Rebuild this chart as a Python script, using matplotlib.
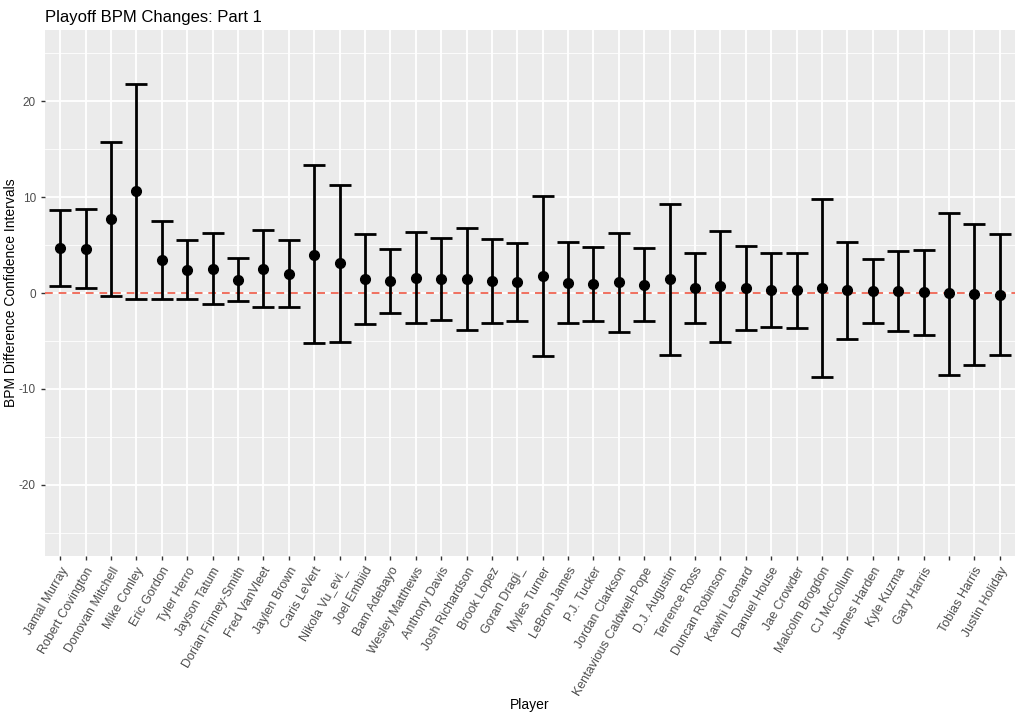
import numpy as np
import matplotlib
matplotlib.use("Agg")
import matplotlib.pyplot as plt
from matplotlib.ticker import MultipleLocator

plt.rcParams['font.family'] = ['Liberation Sans', 'DejaVu Sans']
plt.rcParams['axes.unicode_minus'] = False

# Datos
players = ["Jamal Murray", "Robert Covington", "Donovan Mitchell", "Mike Conley",
           "Eric Gordon", "Tyler Herro", "Jayson Tatum", "Dorian Finney-Smith",
           "Fred VanVleet", "Jaylen Brown", "Caris LeVert", "Nikola Vu_evi_",
           "Joel Embiid", "Bam Adebayo", "Wesley Matthews", "Anthony Davis",
           "Josh Richardson", "Brook Lopez", "Goran Dragi_", "Myles Turner",
           "LeBron James", "P.J. Tucker", "Jordan Clarkson", "Kentavious Caldwell-Pope",
           "D.J. Augustin", "Terrence Ross", "Duncan Robinson", "Kawhi Leonard",
           "Danuel House", "Jae Crowder", "Malcolm Brogdon", "CJ McCollum",
           "James Harden", "Kyle Kuzma", "Gary Harris", "", "Tobias Harris",
           "Justin Holiday"]
bpm_diff = [4.7, 4.6, 7.7, 10.6, 3.4, 2.4, 2.5, 1.4, 2.45, 1.95, 4.0, 3.1,
            1.45, 1.2, 1.6, 1.45, 1.45, 1.2, 1.18, 1.8, 1.07, 0.95, 1.1, 0.87,
            1.45, 0.48, 0.69, 0.48, 0.35, 0.28, 0.48, 0.28, 0.17, 0.24, 0.07,
            -0.03, -0.1, -0.17]
ci_upper = [8.65, 8.7, 15.7, 21.8, 7.45, 5.5, 6.2, 3.6, 6.55, 5.5, 13.3, 11.3,
            6.15, 4.6, 6.4, 5.75, 6.8, 5.6, 5.25, 10.15, 5.3, 4.8, 6.3, 4.7,
            9.3, 4.13, 6.45, 4.85, 4.2, 4.2, 9.83, 5.35, 3.5, 4.33, 4.48,
            8.33, 7.22, 6.1]
ci_lower = [0.7, 0.5, -0.3, -0.6, -0.6, -0.6, -1.15, -0.8, -1.5, -1.5, -5.25, -5.13,
            -3.2, -2.1, -3.15, -2.8, -3.85, -3.15, -2.9, -6.55, -3.1, -2.9, -4.1, -2.95,
            -6.45, -3.13, -5.07, -3.85, -3.5, -3.65, -8.8, -4.8, -3.13, -3.92, -4.4,
            -8.57, -7.53, -6.5]

x = np.arange(len(players))
y = np.array(bpm_diff)
err = [y - np.array(ci_lower), np.array(ci_upper) - y]

fig = plt.figure(figsize=(10.23, 7.2), dpi=100)
ax = fig.add_axes([45/1023, 1-556/720, (1015-45)/1023, (556-30)/720])
ax.set_facecolor('#EBEBEB')

# Rejilla estilo ggplot
ax.yaxis.set_major_locator(MultipleLocator(10))
ax.yaxis.set_minor_locator(MultipleLocator(5))
ax.grid(which='major', color='white', linewidth=1.3)
ax.grid(which='minor', axis='y', color='white', linewidth=0.6)
ax.set_axisbelow(True)
for s in ax.spines.values():
    s.set_visible(False)

ax.axhline(0, color='#F0705F', linestyle=(0, (4, 3)), linewidth=1.4, zorder=2)
ax.errorbar(x, y, yerr=err, fmt='o', color='black', ecolor='black',
            elinewidth=2.0, capsize=8, capthick=2.0, markersize=7, zorder=3)

ax.set_xlim(-0.6, len(players) - 0.4)
ax.set_ylim(-27.4, 27.4)
ax.set_xticks(x)
ax.set_xticklabels(players, rotation=60, ha='right', rotation_mode='anchor')
ax.tick_params(axis='both', which='major', colors='#333333', labelcolor='#4D4D4D',
               labelsize=8.5, length=3, width=1)
ax.tick_params(axis='x', labelsize=9)
ax.tick_params(axis='y', which='minor', length=0)

ax.set_xlabel('Player', fontsize=10)
ax.xaxis.set_label_coords(0.5, -142/526)
ax.set_ylabel('BPM Difference Confidence Intervals', fontsize=10)
ax.yaxis.set_label_coords(-27/970, 0.5)
ax.set_title('Playoff BPM Changes: Part 1', loc='left', fontsize=12, pad=6)

fig.savefig('out.png', dpi=100)
